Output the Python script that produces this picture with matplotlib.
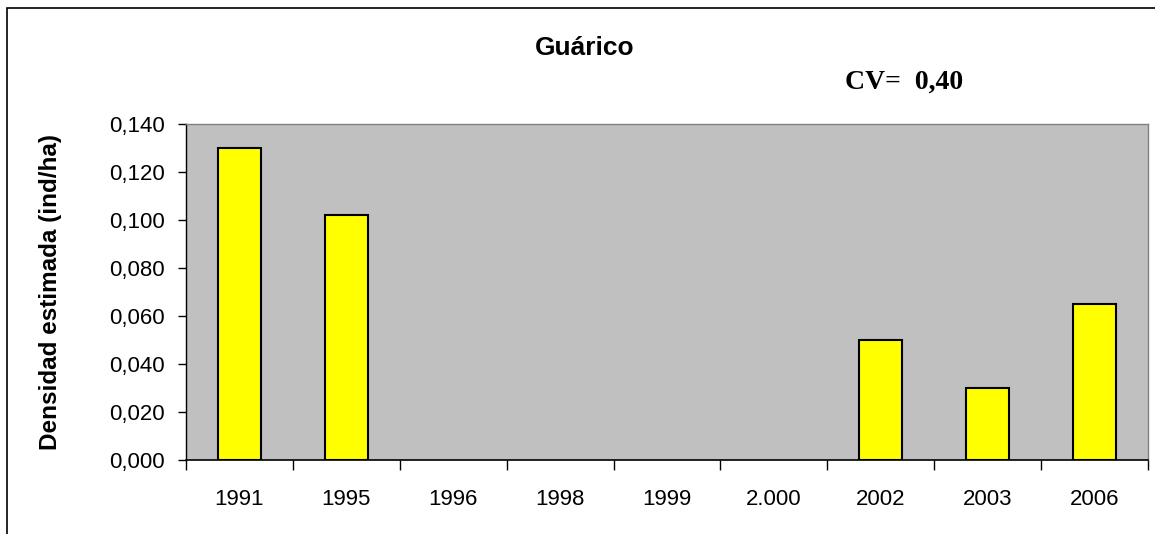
import matplotlib.pyplot as plt
from matplotlib.patches import Rectangle
import numpy as np

# categories and values
years = ['1991', '1995', '1996', '1998', '1999', '2.000', '2002', '2003', '2006']
density = [0.130, 0.102, 0.0, 0.0, 0.0, 0.0, 0.050, 0.030, 0.065]
y_ticks = [0.000, 0.020, 0.040, 0.060, 0.080, 0.100, 0.120, 0.140]

plt.rcParams['font.family'] = ['Liberation Sans', 'DejaVu Sans']

fig = plt.figure(figsize=(11.55, 5.34), dpi=100)
ax = fig.add_axes([0.161, 0.1386, 0.8329, 0.6292])
ax.set_facecolor('#c0c0c0')

x = np.arange(len(years))
nonzero = [i for i, v in enumerate(density) if v > 0]
ax.bar([x[i] for i in nonzero], [density[i] for i in nonzero], width=0.4,
       color='#ffff00', edgecolor='black', linewidth=1.5, zorder=3)

ax.set_xlim(-0.5, len(years) - 0.5)
ax.set_ylim(0, 0.140)
ax.set_yticks(y_ticks)
ax.set_yticklabels([f'{v:.3f}'.replace('.', ',') for v in y_ticks], fontsize=16)
ax.set_xticks(x)
ax.set_xticklabels(years, fontsize=16)
ax.tick_params(axis='x', which='major', length=0, pad=21)
ax.set_xticks(np.arange(-0.5, len(years)), minor=True)
ax.tick_params(axis='x', which='minor', length=7, width=1, direction='out')
ax.tick_params(axis='y', length=6, width=1, direction='out', pad=9)

for side in ['top', 'right']:
    ax.spines[side].set_color('#808080')
    ax.spines[side].set_linewidth(1)
ax.spines['left'].set_linewidth(1)
ax.spines['bottom'].set_linewidth(1.2)

ax.set_ylabel('Densidad estimada (ind/ha)', fontsize=17.5, fontweight='bold', labelpad=34)

fig.text(0.5065, 0.91, 'Guárico', ha='center', va='center', fontsize=19, fontweight='bold')
fig.text(0.7316, 0.846, 'CV=  0,40', ha='left', va='center', fontsize=20,
         fontweight='bold', family=['Liberation Serif', 'DejaVu Serif'])

# outer chart border (only left and top fall inside the picture)
fig.patches.append(Rectangle((0.006, -0.1), 1.2, 1.085, transform=fig.transFigure,
                             fill=False, edgecolor='black', linewidth=1.2))

fig.savefig('out.png', dpi=100)
